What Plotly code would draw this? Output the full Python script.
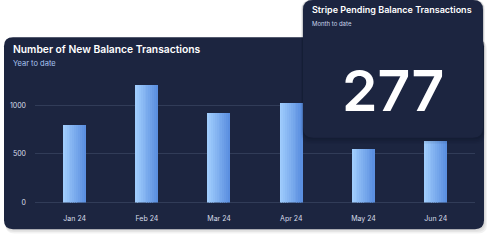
import plotly.graph_objects as go

months = ["Jan 24", "Feb 24", "Mar 24", "Apr 24", "May 24", "Jun 24"]
counts = [795, 1208, 923, 1020, 551, 637]
y_ticks = [0, 500, 1000]
kpi_value = "277"

W, H = 488, 242
CARD_BG = "#1c2540"

def px(x):
    return x / W

def py(y):
    return 1 - y / H

def rrect(x0, y0, x1, y1, r):
    pts = [
        f"M {px(x0 + r)},{py(y0)}",
        f"L {px(x1 - r)},{py(y0)}",
        f"Q {px(x1)},{py(y0)} {px(x1)},{py(y0 + r)}",
        f"L {px(x1)},{py(y1 - r)}",
        f"Q {px(x1)},{py(y1)} {px(x1 - r)},{py(y1)}",
        f"L {px(x0 + r)},{py(y1)}",
        f"Q {px(x0)},{py(y1)} {px(x0)},{py(y1 - r)}",
        f"L {px(x0)},{py(y0 + r)}",
        f"Q {px(x0)},{py(y0)} {px(x0 + r)},{py(y0)}",
        "Z",
    ]
    return " ".join(pts)

def lerp_color(c1, c2, t):
    a = [int(c1[i:i + 2], 16) for i in (1, 3, 5)]
    b = [int(c2[i:i + 2], 16) for i in (1, 3, 5)]
    return "#" + "".join(f"{round(a[k] + (b[k] - a[k]) * t):02x}" for k in range(3))

fig = go.Figure()

bar_w = 0.31
N = 12
for i in range(N):
    t = i / (N - 1)
    fig.add_trace(go.Bar(
        x=months, y=counts,
        width=[bar_w / N] * len(months),
        offset=-bar_w / 2 + i * bar_w / N,
        marker=dict(color=lerp_color("#a0cdfd", "#5b8fe0", t), line=dict(width=0)),
        hoverinfo="skip", showlegend=False,
    ))

shapes = []
for k, op in enumerate([0.05, 0.05, 0.05]):
    d = k + 1
    shapes.append(dict(type="path", xref="paper", yref="paper", layer="below",
                       path=rrect(4 + d * 0.5, 38 + d, 484 + d, 233 + d * 1.5, 9),
                       fillcolor=f"rgba(0,0,0,{op})", line=dict(width=0)))
shapes.append(dict(type="path", xref="paper", yref="paper", layer="below",
                   path=rrect(4, 38, 484, 233, 9), fillcolor=CARD_BG, line=dict(width=0)))
for k, op in enumerate([0.10, 0.08, 0.06, 0.04]):
    d = k + 1
    shapes.append(dict(type="path", xref="paper", yref="paper", layer="above",
                       path=rrect(303 - d * 0.5, 0, 483 + d * 0.5, 140 + d * 1.6, 10),
                       fillcolor=f"rgba(5,10,25,{op})", line=dict(width=0)))
shapes.append(dict(type="path", xref="paper", yref="paper", layer="above",
                   path=rrect(303, 0, 483, 140, 10), fillcolor=CARD_BG, line=dict(width=0)))

annotations = [
    dict(text="Number of New Balance Transactions", x=px(10.5), y=py(50),
         xref="paper", yref="paper", xanchor="left", yanchor="middle", showarrow=False,
         font=dict(family="Inter", size=10.3, color="#ffffff", weight=600)),
    dict(text="Year to date", x=px(10.5), y=py(65),
         xref="paper", yref="paper", xanchor="left", yanchor="middle", showarrow=False,
         font=dict(family="Inter", size=7.5, color="#a8c4f0")),
    dict(text="Stripe Pending Balance Transactions", x=px(309.5), y=py(10),
         xref="paper", yref="paper", xanchor="left", yanchor="middle", showarrow=False,
         font=dict(family="Inter", size=9, color="#ffffff", weight=600)),
    dict(text="Month to date", x=px(309.5), y=py(24),
         xref="paper", yref="paper", xanchor="left", yanchor="middle", showarrow=False,
         font=dict(family="Inter", size=6, color="#c8d4ea")),
    dict(text=kpi_value, x=px(393), y=py(92),
         xref="paper", yref="paper", xanchor="center", yanchor="middle", showarrow=False,
         font=dict(family="Inter", size=57, color="#ffffff", weight=600)),
]

fig.update_layout(
    width=W, height=H,
    margin=dict(l=0, r=0, t=0, b=0),
    paper_bgcolor="#ffffff", plot_bgcolor="rgba(0,0,0,0)",
    barmode="overlay", bargap=0,
    shapes=shapes, annotations=annotations,
    xaxis=dict(domain=[px(35), px(475)], range=[-0.55, 5.544], showgrid=False,
               zeroline=False, showline=False, ticks="", fixedrange=True,
               tickfont=dict(family="Inter", size=7, color="#d8deea"), ticklabelstandoff=10),
    yaxis=dict(domain=[py(206), py(77.3)], range=[0, 1300], tickvals=y_ticks,
               showgrid=True, gridcolor="#313c58", gridwidth=1,
               zeroline=True, zerolinecolor="#313c58", zerolinewidth=1,
               showline=False, ticks="", fixedrange=True,
               tickfont=dict(family="Inter", size=7, color="#d8deea"), ticklabelstandoff=8),
)

fig.write_html("out.html")
